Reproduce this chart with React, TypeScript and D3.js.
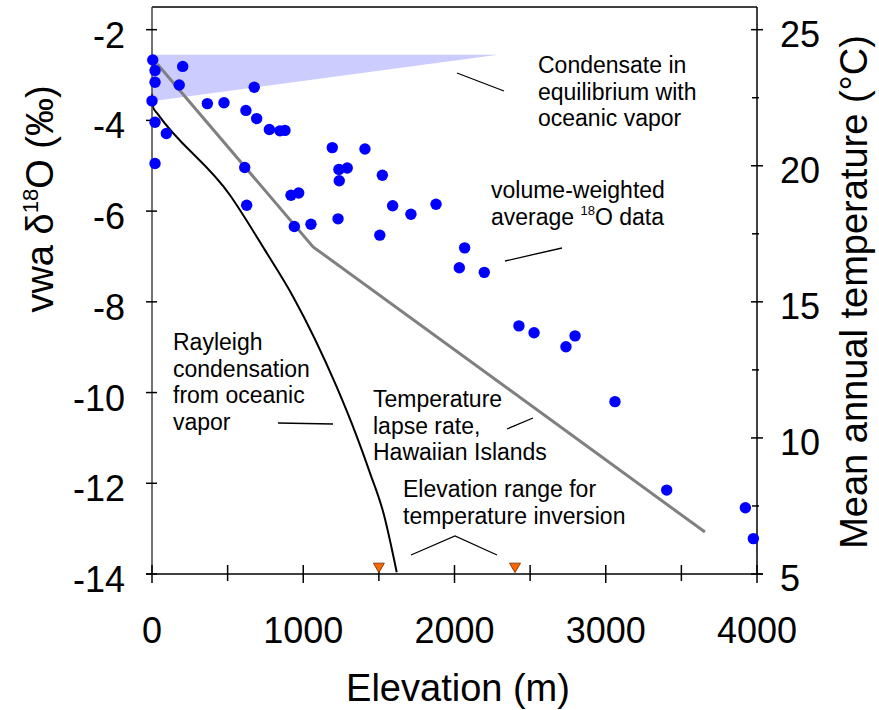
import React, { useEffect, useRef } from "react";
import * as d3 from "d3";

// vwa d18O data (elevation m, permil)
const elevation = [
  5, 20, 203, 20, 180, 676, 0, 366, 476, 621, 692, 20, 95, 776, 846, 879, 20,
  1192, 1408, 613, 1236, 1291, 1238, 1523, 919, 970, 626, 1591, 1712, 1878, 941,
  1051, 1230, 1506, 2067, 2032, 2197, 2426, 2526, 2737, 2797, 3061, 3403, 3923,
  3976,
];
const vwaD18O = [
  -2.67, -2.9, -2.81, -3.16, -3.22, -3.27, -3.57, -3.63, -3.61, -3.78, -3.96,
  -4.04, -4.29, -4.2, -4.23, -4.22, -4.95, -4.6, -4.63, -5.04, -5.08, -5.05,
  -5.33, -5.21, -5.65, -5.6, -5.87, -5.88, -6.07, -5.85, -6.34, -6.29, -6.17,
  -6.53, -6.81, -7.25, -7.35, -8.53, -8.68, -8.99, -8.75, -10.2, -12.15, -12.54,
  -13.22,
];

// Rayleigh condensation curve
const rayleighElevation = [0, 7, 36, 516, 747, 932, 1219, 1353, 1441, 1529, 1618];
const rayleighD18O = [-3.41, -3.71, -3.85, -5.65, -6.86, -7.88, -9.86, -10.96, -11.77, -12.64, -13.96];

// temperature lapse rate (right axis, degC)
const lapseElevation = [35, 1065, 3656];
const lapseTemp = [23.74, 17.02, 6.54];

// condensate in equilibrium with oceanic vapor
const condensateElevation = [0, 2288, 0];
const condensateD18O = [-2.55, -2.55, -3.58];

// temperature inversion range markers
const inversionElevation = [1500, 2400];
const inversionD18O = -13.86;

const xTicks = [0, 1000, 2000, 3000, 4000];
const xMinorTicks = [500, 1500, 2500, 3500];
const yTicks = [-2, -4, -6, -8, -10, -12, -14];
const tempTicks = [5, 10, 15, 20, 25];
const tempMinorTicks = [7.5, 12.5, 17.5, 22.5];

const FONT = "'Liberation Sans', Arial, Helvetica, sans-serif";
const W = 879;
const H = 710;

const App = () => {
  const ref = useRef<HTMLDivElement>(null);

  useEffect(() => {
    d3.select(ref.current).selectAll("*").remove();
    const svg = d3
      .select(ref.current)
      .append("svg")
      .attr("width", W)
      .attr("height", H)
      .style("display", "block")
      .style("font-family", FONT);

    svg.append("rect").attr("width", W).attr("height", H).attr("fill", "#fff");

    const x = d3.scaleLinear().domain([0, 4000]).range([152, 757]);
    const y = d3.scaleLinear().domain([-14, -1.5]).range([574, 7]);
    const yT = d3.scaleLinear().domain([5, 25 + 0.5 * (20 / 12)]).range([574, 7]);

    // condensate wedge
    const poly = condensateElevation.map((e, i) => [x(e), y(condensateD18O[i])]);
    svg
      .append("path")
      .attr("d", "M" + poly.map((p) => p.join(",")).join("L") + "Z")
      .attr("fill", "#ccccff");

    // lapse rate line
    const lapseLine = d3
      .line<number>()
      .x((d) => x(d))
      .y((d, i) => yT(lapseTemp[i]));
    svg
      .append("path")
      .attr("d", lapseLine(lapseElevation))
      .attr("fill", "none")
      .attr("stroke", "#808080")
      .attr("stroke-width", 3);

    // Rayleigh curve
    const rayLine = d3
      .line<number>()
      .x((d) => x(d))
      .y((d, i) => y(rayleighD18O[i]))
      .curve(d3.curveMonotoneX);
    svg
      .append("path")
      .attr("d", rayLine(rayleighElevation))
      .attr("fill", "none")
      .attr("stroke", "#000")
      .attr("stroke-width", 2);

    // frame and axes
    const axes = svg.append("g").attr("stroke", "#000").attr("stroke-width", 1.5);
    axes.append("line").attr("x1", 152).attr("x2", 757).attr("y1", 7).attr("y2", 7);
    axes.append("line").attr("x1", 757).attr("x2", 757).attr("y1", 7).attr("y2", 574);
    axes.append("line").attr("x1", 152).attr("x2", 152).attr("y1", 7).attr("y2", 574).attr("stroke", "#444");
    axes.append("line").attr("x1", 146).attr("x2", 763).attr("y1", 574).attr("y2", 574);

    yTicks.forEach((t) => {
      axes.append("line").attr("x1", 146).attr("x2", 157).attr("y1", y(t)).attr("y2", y(t));
    });
    xTicks.forEach((t) => {
      axes.append("line").attr("x1", x(t)).attr("x2", x(t)).attr("y1", 565).attr("y2", 583);
    });
    xMinorTicks.forEach((t) => {
      axes.append("line").attr("x1", x(t)).attr("x2", x(t)).attr("y1", 565).attr("y2", 581);
    });
    tempTicks.forEach((t) => {
      axes.append("line").attr("x1", 751).attr("x2", 763).attr("y1", yT(t)).attr("y2", yT(t));
    });
    tempMinorTicks.forEach((t) => {
      axes.append("line").attr("x1", 752).attr("x2", 759).attr("y1", yT(t)).attr("y2", yT(t));
    });

    // tick labels
    svg
      .selectAll(".ylab")
      .data(yTicks)
      .enter()
      .append("text")
      .attr("x", 125)
      .attr("y", (d) => y(d) + 18)
      .attr("text-anchor", "end")
      .attr("font-size", 36)
      .text((d) => String(d));
    svg
      .selectAll(".xlab")
      .data(xTicks)
      .enter()
      .append("text")
      .attr("x", (d) => x(d))
      .attr("y", 643)
      .attr("text-anchor", "middle")
      .attr("font-size", 36)
      .text((d) => String(d));
    svg
      .selectAll(".tlab")
      .data(tempTicks)
      .enter()
      .append("text")
      .attr("x", 780)
      .attr("y", (d) => yT(d) + 17)
      .attr("font-size", 36)
      .text((d) => String(d));

    // axis titles
    svg
      .append("text")
      .attr("x", 458)
      .attr("y", 701)
      .attr("text-anchor", "middle")
      .attr("font-size", 38)
      .text("Elevation (m)");

    const yTitle = svg
      .append("text")
      .attr("transform", "translate(53,199) rotate(-90)")
      .attr("text-anchor", "middle")
      .attr("font-size", 38);
    yTitle.append("tspan").text("vwa \u03b4");
    yTitle.append("tspan").attr("font-size", 22).attr("dy", -15).text("18");
    yTitle.append("tspan").attr("dy", 15).text("O (\u2030)");

    svg
      .append("text")
      .attr("transform", "translate(867,292) rotate(-90)")
      .attr("text-anchor", "middle")
      .attr("font-size", 38)
      .text("Mean annual temperature (\u00b0C)");

    // data points
    svg
      .selectAll(".pt")
      .data(elevation)
      .enter()
      .append("circle")
      .attr("cx", (d) => x(d))
      .attr("cy", (d, i) => y(vwaD18O[i]))
      .attr("r", 5.7)
      .attr("fill", "#0000ff");

    // inversion markers
    svg
      .selectAll(".inv")
      .data(inversionElevation)
      .enter()
      .append("path")
      .attr("d", (d) => {
        const cx = x(d);
        const cy = y(inversionD18O);
        return `M${cx - 5.5},${cy - 4.5}L${cx + 5.5},${cy - 4.5}L${cx},${cy + 5}Z`;
      })
      .attr("fill", "#ff6600")
      .attr("stroke", "#6b2a00")
      .attr("stroke-width", 0.8);

    // annotations
    const leaders = [
      [[457, 73], [504, 91]],
      [[505, 261], [562, 248]],
      [[278, 423], [333, 424]],
      [[507, 429], [533, 418]],
      [[411, 555], [455, 536], [497, 555]],
    ];
    leaders.forEach((pts) => {
      svg
        .append("path")
        .attr("d", "M" + pts.map((p) => p.join(",")).join("L"))
        .attr("fill", "none")
        .attr("stroke", "#000")
        .attr("stroke-width", 1.3);
    });

    const note = (lines: string[], x0: number, y0: number) => {
      const t = svg.append("text").attr("font-size", 23);
      lines.forEach((l, i) => {
        t.append("tspan").attr("x", x0).attr("y", y0 + i * 26.5).text(l);
      });
    };
    note(["Condensate in", "equilibrium with", "oceanic vapor"], 538, 73);
    note(["Rayleigh", "condensation", "from oceanic", "vapor"], 173, 350);
    note(["Temperature", "lapse rate,", "Hawaiian Islands"], 373, 407);
    note(["Elevation range for", "temperature inversion"], 403, 497);

    const vw = svg.append("text").attr("font-size", 23);
    vw.append("tspan").attr("x", 491).attr("y", 198).text("volume-weighted");
    vw.append("tspan").attr("x", 491).attr("y", 225).text("average ");
    vw.append("tspan").attr("font-size", 13).attr("dy", -10).text("18");
    vw.append("tspan").attr("dy", 10).text("O data");
  }, []);

  return <div ref={ref} style={{ position: "absolute", left: 0, top: 0 }}></div>;
};

export default App;
